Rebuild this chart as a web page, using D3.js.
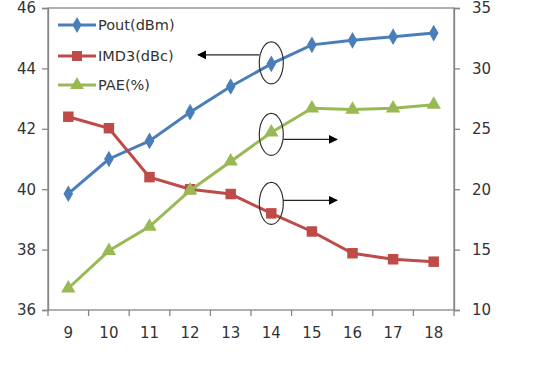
<!DOCTYPE html>
<html>
<head>
<meta charset="utf-8">
<script src="https://cdn.jsdelivr.net/npm/d3@7"></script>
<style>
  body { margin: 0; background: #fff; }
  svg { display: block; }
  text { font-family: "DejaVu Sans", Verdana, sans-serif; fill: #333; }
</style>
</head>
<body>
<svg id="chart" width="545" height="366"></svg>
<script>
// categories on x axis
var categories = [9, 10, 11, 12, 13, 14, 15, 16, 17, 18];
// left axis series
var pout = [39.85, 41.0, 41.6, 42.55, 43.4, 44.15, 44.78, 44.93, 45.05, 45.17];
// right axis series
var imd3 = [26.0, 25.05, 21.0, 20.0, 19.6, 18.0, 16.5, 14.7, 14.2, 14.0];
var pae = [11.8, 14.9, 16.9, 19.9, 22.3, 24.7, 26.7, 26.6, 26.7, 27.0];
var leftTicks = [36, 38, 40, 42, 44, 46];
var rightTicks = [10, 15, 20, 25, 30, 35];

var svg = d3.select("#chart");
var plotL = 48, plotR = 454, plotT = 8, plotB = 310;
var axisColor = "#868686";

var x = d3.scaleBand().domain(categories).range([plotL, plotR]);
var yL = d3.scaleLinear().domain([36, 46]).range([plotB, plotT]);
var yR = d3.scaleLinear().domain([10, 35]).range([plotB, plotT]);

// plot border
svg.append("rect")
   .attr("x", plotL).attr("y", plotT)
   .attr("width", plotR - plotL).attr("height", plotB - plotT)
   .attr("fill", "none").attr("stroke", axisColor).attr("stroke-width", 1.3);

// axes
var gL = svg.append("g").attr("transform", "translate(" + plotL + ",0)")
   .call(d3.axisLeft(yL).tickValues(leftTicks).tickSize(6).tickPadding(6));
var gR = svg.append("g").attr("transform", "translate(" + plotR + ",0)")
   .call(d3.axisRight(yR).tickValues(rightTicks).tickSize(6).tickPadding(12));
var gX = svg.append("g").attr("transform", "translate(0," + plotB + ")")
   .call(d3.axisBottom(x).tickSize(0).tickPadding(17));

// band boundary ticks like excel
svg.append("g").selectAll("line")
   .data(categories.concat(["end"]))
   .enter().append("line")
   .attr("x1", function(d, i) { return plotL + i * x.step(); })
   .attr("x2", function(d, i) { return plotL + i * x.step(); })
   .attr("y1", plotB).attr("y2", plotB + 6)
   .attr("stroke", axisColor).attr("stroke-width", 1.3);

[gL, gR, gX].forEach(function(g) {
  g.selectAll("path, line").attr("stroke", axisColor).attr("stroke-width", 1.3);
  g.selectAll("text").style("font-size", "15px").attr("fill", "#333");
});
gX.select(".domain").remove();

var cx = function(d, i) { return x(categories[i]) + x.bandwidth() / 2; };

var series = [
  { name: "Pout(dBm)", data: pout, y: yL, color: "#4A7EBB", symbol: d3.symbolDiamond, size: 80 },
  { name: "IMD3(dBc)", data: imd3, y: yR, color: "#BE4B48", symbol: d3.symbolSquare, size: 110 },
  { name: "PAE(%)", data: pae, y: yR, color: "#98B954", symbol: d3.symbolTriangle, size: 90 }
];

series.forEach(function(s) {
  var line = d3.line().x(cx).y(function(d) { return s.y(d); });
  svg.append("path").datum(s.data)
     .attr("d", line).attr("fill", "none")
     .attr("stroke", s.color).attr("stroke-width", 3);
  svg.append("g").selectAll("path")
     .data(s.data).enter().append("path")
     .attr("d", d3.symbol().type(s.symbol).size(s.size))
     .attr("transform", function(d, i) { return "translate(" + cx(d, i) + "," + s.y(d) + ")"; })
     .attr("fill", s.color);
});

// legend
var legend = svg.append("g");
series.forEach(function(s, i) {
  var ly = [25, 56, 85][i];
  legend.append("line").attr("x1", 58).attr("x2", 96).attr("y1", ly).attr("y2", ly)
        .attr("stroke", s.color).attr("stroke-width", 3);
  legend.append("path").attr("d", d3.symbol().type(s.symbol).size(s.size * 0.9)())
        .attr("transform", "translate(77," + ly + ")").attr("fill", s.color);
  legend.append("text").attr("x", 98).attr("y", ly).attr("dy", "0.35em")
        .style("font-size", "14.5px").text(s.name);
});

// annotations: ellipses on x=14 and arrows to the axis used
var defs = svg.append("defs");
defs.append("marker").attr("id", "head").attr("viewBox", "0 0 10 10")
    .attr("refX", 9).attr("refY", 5).attr("markerWidth", 9).attr("markerHeight", 9)
    .attr("markerUnits", "userSpaceOnUse")
    .attr("orient", "auto-start-reverse")
    .append("path").attr("d", "M0,0L10,5L0,10Z").attr("fill", "#000");

var i14 = categories.indexOf(14);
var ex = x(14) + x.bandwidth() / 2;
var notes = [
  { cy: yL(pout[i14]) - 1, ay: -8, dir: -1 },
  { cy: yR(pae[i14]) + 2, ay: 5, dir: 1 },
  { cy: yR(imd3[i14]) - 10, ay: -3, dir: 1 }
];
notes.forEach(function(n) {
  svg.append("ellipse").attr("cx", ex).attr("cy", n.cy).attr("rx", 12).attr("ry", 21)
     .attr("fill", "none").attr("stroke", "#333").attr("stroke-width", 1.2);
  var x1 = n.dir < 0 ? ex - 12 : ex + 12;
  var x2 = n.dir < 0 ? 198 : 337;
  svg.append("line").attr("x1", x1).attr("x2", x2)
     .attr("y1", n.cy + n.ay).attr("y2", n.cy + n.ay)
     .attr("stroke", "#222").attr("stroke-width", 1.2)
     .attr("marker-end", "url(#head)");
});
</script>
</body>
</html>
